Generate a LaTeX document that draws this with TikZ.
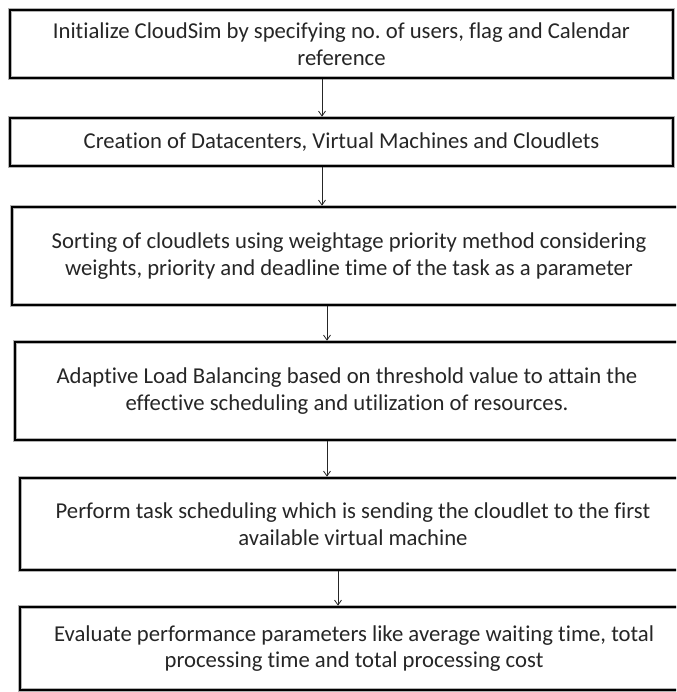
\documentclass[tikz,border=0pt]{standalone}
\usepackage{fontspec}
\setmainfont[Ligatures=NoCommon]{Carlito}
\usetikzlibrary{arrows.meta}
\frenchspacing
\begin{document}
\begin{tikzpicture}[x=1pt,y=1pt,
  stepbox/.style={draw=black, line width=2.6pt, rectangle, inner sep=0pt,
    align=center, font=\fontsize{22.7}{26.5}\selectfont, text=black!85,
    preaction={draw=black!30, line width=4.2pt}},
  conn/.style={draw=black!85, line width=0.8pt, -{Straight Barb[length=5pt,width=7pt]}}]
\path[use as bounding box] (0,0) rectangle (676,-692);
\clip (0,0) rectangle (676,-692);
\fill[white] (0,0) rectangle (676,-692);
\node[stepbox, minimum width=663, minimum height=68] (b1) at (341.5,-44)
  {Initialize CloudSim by specifying no. of users, flag and Calendar\\reference};
\node[stepbox, minimum width=663, minimum height=48] (b2) at (341.5,-142)
  {Creation of Datacenters, Virtual Machines and Cloudlets};
\node[stepbox, minimum width=674, minimum height=98] (b3) at (349,-256)
  {Sorting of cloudlets using weightage priority method considering\\weights, priority and deadline time of the task as a parameter};
\node[stepbox, minimum width=664, minimum height=98] (b4) at (347,-391)
  {Adaptive Load Balancing based on threshold value to attain the\\effective scheduling and utilization of resources.};
\node[stepbox, minimum width=666, minimum height=92] (b5) at (353,-524)
  {Perform task scheduling which is sending the cloudlet to the first\\available virtual machine};
\node[stepbox, minimum width=668, minimum height=83] (b6) at (354,-648.5)
  {Evaluate performance parameters like average waiting time, total\\processing time and total processing cost};
\coordinate (a1) at (322,0);
\coordinate (a2) at (322,0);
\coordinate (a3) at (327,0);
\coordinate (a4) at (327,0);
\coordinate (a5) at (338,0);
\draw[conn] (b1.south -| a1) -- (b2.north -| a1);
\draw[conn] (b2.south -| a2) -- (b3.north -| a2);
\draw[conn] (b3.south -| a3) -- (b4.north -| a3);
\draw[conn] (b4.south -| a4) -- (b5.north -| a4);
\draw[conn] (b5.south -| a5) -- (b6.north -| a5);
\end{tikzpicture}
\end{document}
